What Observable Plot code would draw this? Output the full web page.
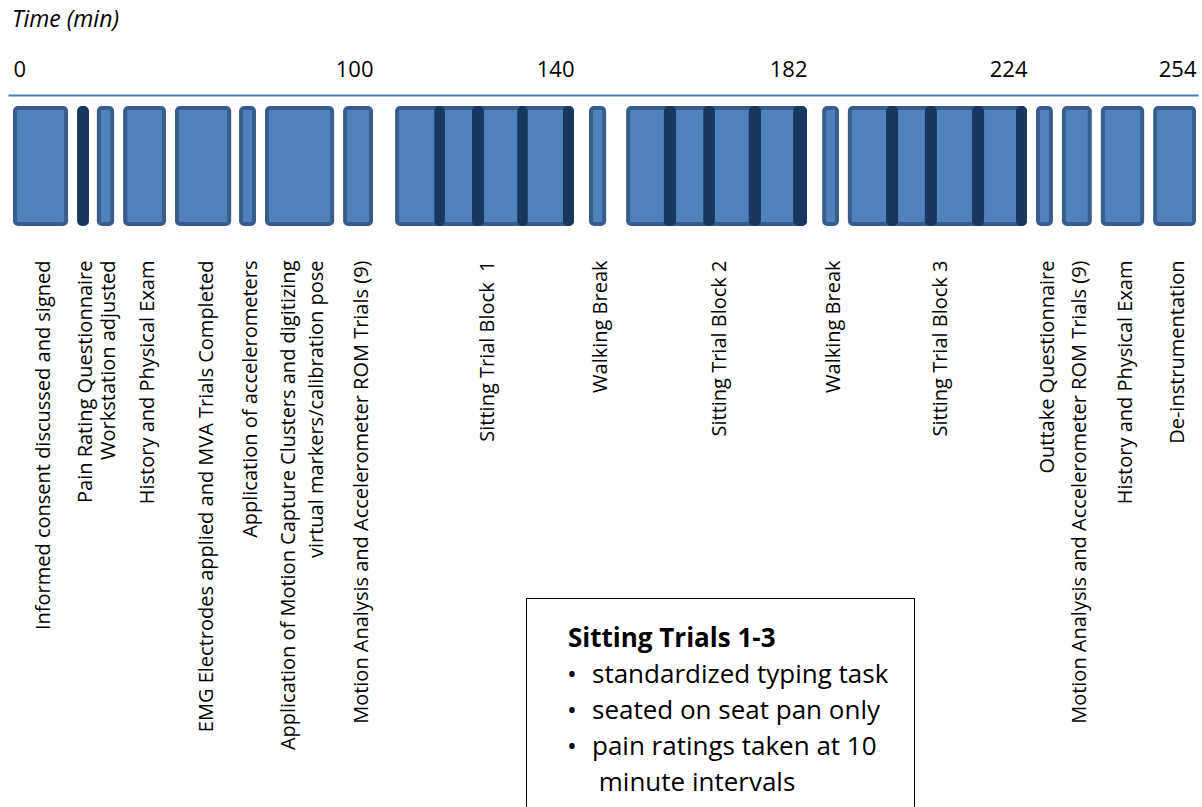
<!DOCTYPE html>
<html>
<head>
<meta charset="utf-8">
<script src="https://cdn.jsdelivr.net/npm/d3@7"></script>
<script src="https://cdn.jsdelivr.net/npm/@observablehq/plot@0.6"></script>
<style>
  html, body { margin: 0; padding: 0; background: #fff; }
  #wrap { position: relative; width: 1202px; height: 807px; overflow: hidden; font-family: "Open Sans", Lato, sans-serif; }
  #title { position: absolute; left: 12px; top: 2px; font-size: 23px; font-style: italic; color: #000; }
  #chart { position: absolute; left: 0; top: 0; }
  #legend { position: absolute; left: 526px; top: 598px; width: 387px; height: 240px; border: 1.5px solid #000; background: #fff; font-size: 26px; color: #000; }
  #legend .head { position: absolute; left: 41px; top: 20px; font-weight: bold; line-height: 36px; }
  #legend .item { position: absolute; left: 65px; line-height: 36px; white-space: nowrap; }
  #legend .bullet { position: absolute; left: 40px; line-height: 36px; }
</style>
</head>
<body>
<div id="wrap">
  <div id="chart"></div>
  <div id="title">Time (min)</div>
  <div id="legend"></div>
</div>
<script>
// ---- data (minutes) ----
const phaseLabels = [
  "Informed consent discussed and signed",
  "Workstation adjusted",
  "History and Physical Exam",
  "EMG Electrodes applied and MVA Trials Completed",
  "Application of accelerometers",
  "Application of Motion Capture Clusters and digitizing\nvirtual markers/calibration pose",
  "Motion Analysis and Accelerometer ROM Trials (9)",
  "Sitting Trial Block  1",
  "Walking Break",
  "Sitting Trial Block 2",
  "Walking Break",
  "Sitting Trial Block 3",
  "Outtake Questionnaire",
  "Motion Analysis and Accelerometer ROM Trials (9)",
  "History and Physical Exam",
  "De-instrumentation"
];
const phaseStart = [0, 23.3, 30.6, 45, 62.8, 70, 91.7, 104.4, 142.7, 149.4, 184.9, 189.8, 225.6, 230.2, 237.1, 246.4];
const phaseEnd   = [15.3, 28.1, 42.5, 60.6, 67.5, 89.2, 100, 140, 145.8, 182, 188.1, 224, 228.6, 235.5, 244.8, 254];

const ratingLabels = ["Pain Rating Questionnaire", "", "", "", "", "", "", "", "", "", "", "", ""];
const ratingStart = [17.8, 112.2, 119.7, 128.7, 137.8, 156.2, 163.3, 171.5, 179.5, 197.1, 204.5, 213.5, 221.9];
const ratingEnd   = [21.1, 114.3, 122.1, 130.8, 140, 158.4, 165.4, 173.7, 182, 199.4, 206.8, 215.8, 224];

const tickMinutes = [0, 100, 140, 182, 224, 254];

const legendTitle = "Sitting Trials 1-3";
const legendItems = ["standardized typing task", "seated on seat pan only", "pain ratings taken at 10<br>&nbsp;minute intervals"];

// ---- build tables ----
const phases = phaseLabels.map((label, i) => ({label, start: phaseStart[i], end: phaseEnd[i]}));
const ratings = ratingLabels.map((label, i) => ({label, start: ratingStart[i], end: ratingEnd[i]}));
const labelled = phases.concat(ratings.filter(d => d.label));

const fill = "#4f81bd", edge = "#385d8a", dark = "#17375e";

const chart = Plot.plot({
  width: 1202,
  height: 807,
  marginTop: 95,
  marginBottom: 583,
  marginLeft: 9,
  marginRight: 5,
  style: {fontFamily: "'Open Sans', Lato, sans-serif", background: "transparent", overflow: "visible"},
  x: {type: "linear", domain: tickMinutes, range: [13, 373, 574, 807, 1027, 1196], axis: null},
  marks: [
    Plot.frame({anchor: "top", stroke: "#4a7ebb", strokeWidth: 2}),
    Plot.rect(phases, {x1: "start", x2: "end", fill, stroke: edge, strokeWidth: 4, rx: 3,
      insetLeft: 2, insetRight: 2, insetTop: 13, insetBottom: 0}),
    Plot.rect(ratings, {x1: "start", x2: "end", fill: dark, stroke: dark, strokeWidth: 4, rx: 3,
      insetLeft: 2, insetRight: 2, insetTop: 13, insetBottom: 0}),
    Plot.text(tickMinutes.filter(d => d === 0), {x: d => d, text: d => String(d), frameAnchor: "top",
      textAnchor: "start", lineAnchor: "middle", dy: -26, fontSize: 22, fill: "#000"}),
    Plot.text(tickMinutes.filter(d => d !== 0), {x: d => d, text: d => String(d), frameAnchor: "top",
      textAnchor: "end", lineAnchor: "middle", dy: -26, fontSize: 22, fill: "#000"}),
    Plot.text(labelled, {x: d => (d.start + d.end) / 2, text: "label", rotate: -90, frameAnchor: "bottom",
      textAnchor: "end", lineAnchor: "middle", lineHeight: 1.4, dy: 36, fontSize: 20, fill: "#000"})
  ]
});
document.getElementById("chart").appendChild(chart);

// ---- legend box ----
const lg = document.getElementById("legend");
let html = `<div class="head">${legendTitle}</div>`;
legendItems.forEach((t, i) => {
  const top = 56 + i * 36;
  html += `<div class="bullet" style="top:${top}px">•</div><div class="item" style="top:${top}px">${t}</div>`;
});
lg.innerHTML = html;
</script>
</body>
</html>
